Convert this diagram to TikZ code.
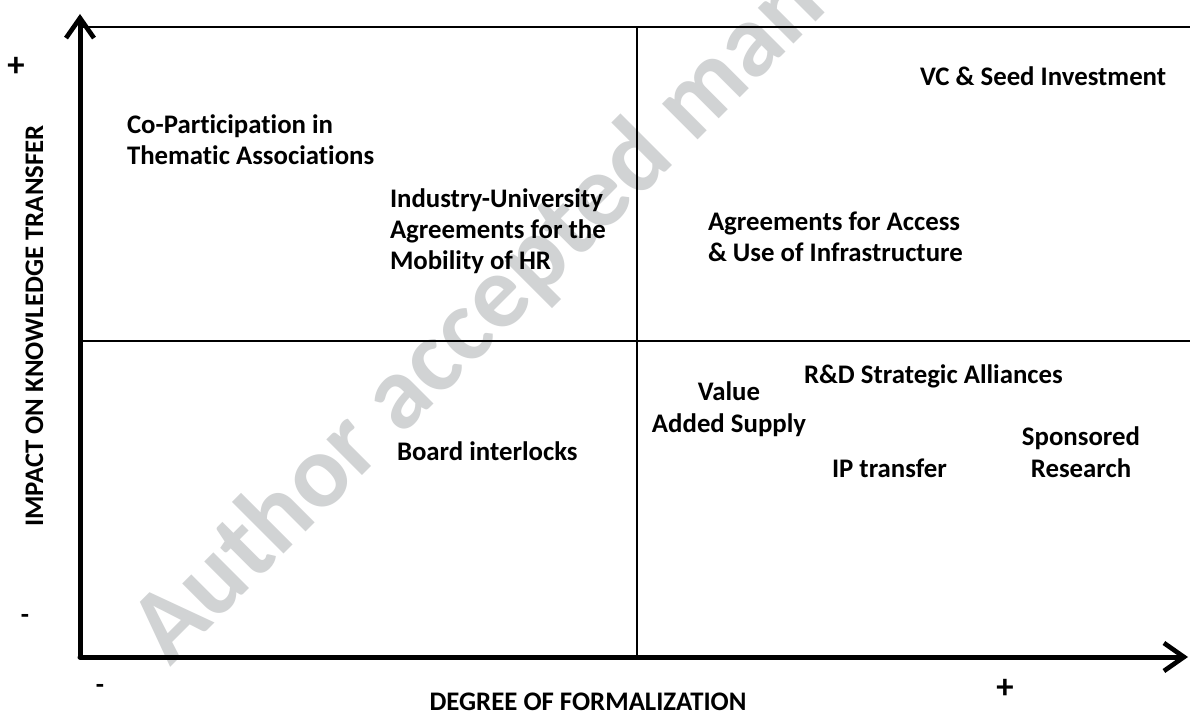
\documentclass[tikz,border=0pt]{standalone}
\usepackage{fontspec}
\setmainfont{Carlito}[Ligatures=NoCommon]
\usetikzlibrary{arrows.meta}
\begin{document}
\begin{tikzpicture}[x=0.75pt,y=-0.75pt,
  lbl/.style={font=\bfseries\fontsize{20.1}{23.3}\selectfont, inner sep=0pt, outer sep=0pt},
  signlbl/.style={font=\bfseries\fontsize{26}{26}\selectfont, inner sep=0pt, outer sep=0pt},
  axisline/.style={line width=3.75pt, line cap=round,
    -{Straight Barb[length=15pt,width=21pt,line width=3.5pt]}},
  gridline/.style={line width=1.1pt},
  wmark/.style={font=\bfseries\fontsize{78}{78}\selectfont, text=wmgray, inner sep=0pt}]
\definecolor{wmgray}{RGB}{209,211,212}
\clip (0,0) rectangle (1190,713);
\fill[white] (0,0) rectangle (1190,713);

% watermark behind everything
\node[wmark, anchor=base west, rotate=45] (wm) at (170,668) {Author accepted manuscript};

% frame and quadrant lines
\coordinate (O) at (80,657);
\coordinate (ytip) at (80,14);
\coordinate (xtip) at (1188,657);
\coordinate (tl) at (80,27);
\coordinate (tr) at (1190,27);
\coordinate (mt) at (637,27);
\coordinate (mb) at (637,657);
\coordinate (ml) at (80,341);
\coordinate (mr) at (1190,341);
\draw[gridline] (tl) -- (tr);
\draw[gridline] (mt) -- (mb);
\draw[gridline] (ml) -- (mr);
\draw[axisline] (O) -- (ytip);
\draw[axisline] (O) -- (xtip);

% axis titles and signs
\node[lbl, anchor=base] (xtitle) at (588,710) {DEGREE OF FORMALIZATION};
\node[lbl, anchor=base, rotate=90] (ytitle) at (43,326) {IMPACT ON KNOWLEDGE TRANSFER};
\node[signlbl] (yplus) at (16,67) {+};
\node[lbl] (yminus) at (25,619) {-};
\node[lbl] (xminus) at (100,689) {-};
\node[signlbl] (xplus) at (1005,689) {+};

% quadrant entries (multi-line nodes sit on their last line)
\node[lbl, anchor=base west, align=left] (copart) at (127,165) {Co-Participation in\\Thematic Associations};
\node[lbl, anchor=base west, align=left] (iua) at (390,270) {Industry-University\\Agreements for the\\Mobility of HR};
\node[lbl, anchor=base west] (vc) at (920,86) {VC \& Seed Investment};
\node[lbl, anchor=base west, align=left] (infra) at (708,262) {Agreements for Access\\\& Use of Infrastructure};
\node[lbl, anchor=base west] (board) at (397,460) {Board interlocks};
\node[lbl, anchor=base west] (rd) at (804,383) {R\&D Strategic Alliances};
\node[lbl, anchor=base, align=center] (vas) at (729,432) {Value\\Added Supply};
\node[lbl, anchor=base west] (ip) at (832,477) {IP transfer};
\node[lbl, anchor=base, align=center] (spons) at (1081,477) {Sponsored\\Research};
\end{tikzpicture}
\end{document}
